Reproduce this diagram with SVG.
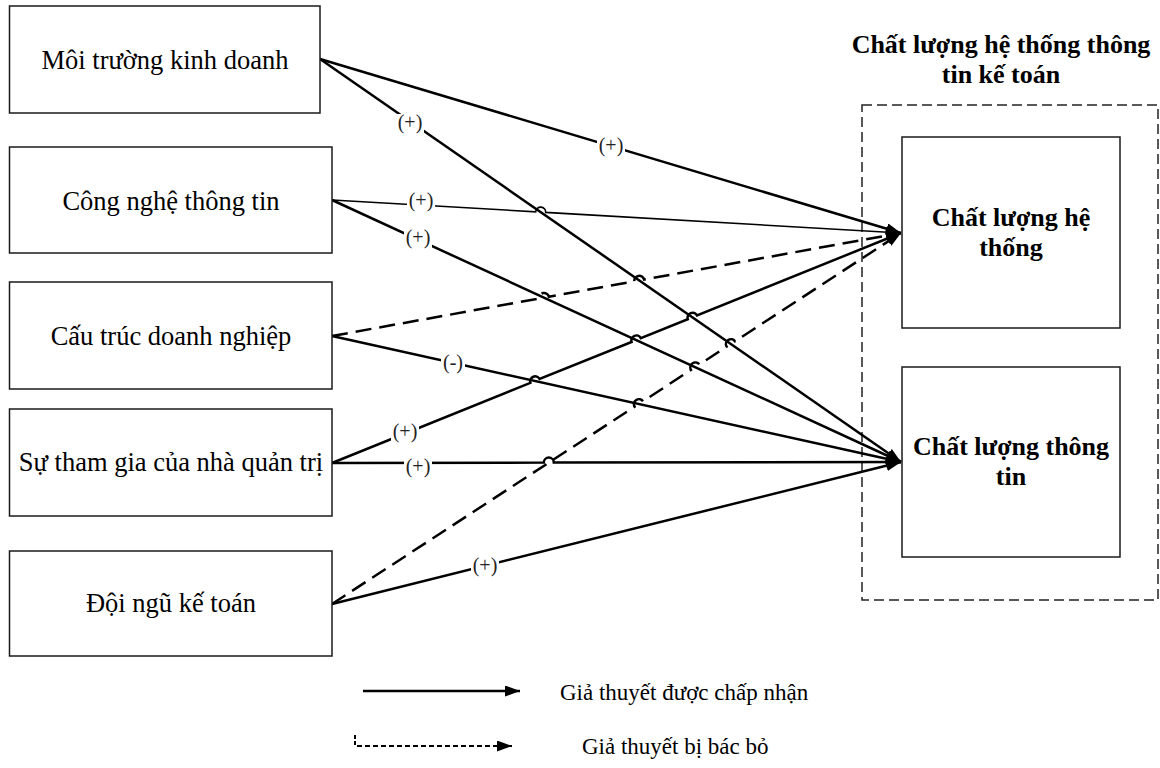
<svg xmlns="http://www.w3.org/2000/svg" width="1160" height="768" viewBox="0 0 1160 768">
<style>
  .box{fill:#fff;stroke:#1a1a1a;stroke-width:1.5}
  .outer{fill:none;stroke:#222;stroke-width:1.5;stroke-dasharray:10 5}
  .txt{font-family:"Liberation Serif","DejaVu Serif",serif;font-size:26.5px;fill:#000;text-anchor:middle}
  .btxt{font-family:"Liberation Serif","DejaVu Serif",serif;font-size:26px;font-weight:bold;fill:#000;text-anchor:middle}
  .lg{font-family:"Liberation Serif","DejaVu Serif",serif;font-size:23px;fill:#000}
  .lbl{font-family:"Liberation Serif","DejaVu Serif",serif;font-size:20px;fill:#222;text-anchor:middle}
  .bg{fill:#fff}
  .c{fill:none;stroke:#000;stroke-width:2.5}
  .thin{fill:none;stroke:#000;stroke-width:1.6}
  .d{fill:none;stroke:#000;stroke-width:2.5;stroke-dasharray:16 8}
</style>
<defs>
  <marker id="ah" viewBox="0 0 15 11" refX="15" refY="5.5" markerWidth="15" markerHeight="11" markerUnits="userSpaceOnUse" orient="auto">
    <path d="M0 0 L15 5.5 L0 11 z" fill="#000"/>
  </marker>
</defs>

<g id="container">
  <rect class="outer" x="862" y="105" width="296" height="495"/>
  <text class="btxt" x="1001" y="53">Chất lượng hệ thống thông</text>
  <text class="btxt" x="1001" y="83">tin kế toán</text>
</g>

<g id="connectors">
  <path class="c" d="M320 59 L901 233" marker-end="url(#ah)"/>
  <path class="c" d="M320 59 L901 462" marker-end="url(#ah)"/>
  <path class="thin" d="M332 200 L535.7 211.8 A5 5 0 0 1 545.7 212.4 L901 233" marker-end="url(#ah)"/>
  <path class="c" d="M332 200 L901 462" marker-end="url(#ah)"/>
  <path class="d" d="M332 336 L539.1 298.5 A5 5 0 0 1 548.9 296.7 L634.3 281.3 A5 5 0 0 1 644.1 279.5 L901 233" marker-end="url(#ah)"/>
  <path class="c" d="M332 336 L901 462" marker-end="url(#ah)"/>
  <path class="c" d="M332 463 L530.4 382.8 A5 5 0 0 1 539.6 379.0 L631.6 341.9 A5 5 0 0 1 640.8 338.1 L687.8 319.2 A5 5 0 0 1 697.0 315.4 L901 233" marker-end="url(#ah)"/>
  <path class="c" d="M332 463 L543.8 462.6 A5 5 0 0 1 553.8 462.6 L901 462" marker-end="url(#ah)"/>
  <path class="d" d="M332 604 L634.6 406.7 A5 5 0 0 1 643.0 401.3 L691.0 369.9 A5 5 0 0 1 699.4 364.5 L726.6 346.7 A5 5 0 0 1 735.0 341.3 L901 233" marker-end="url(#ah)"/>
  <path class="c" d="M332 604 L901 462" marker-end="url(#ah)"/>

  <rect class="bg" x="597" y="137" width="28" height="20"/>
  <text class="lbl" x="611" y="152">(+)</text>
  <rect class="bg" x="396" y="114" width="28" height="20"/>
  <text class="lbl" x="410" y="129">(+)</text>
  <rect class="bg" x="407" y="192" width="28" height="20"/>
  <text class="lbl" x="421" y="207">(+)</text>
  <rect class="bg" x="404" y="229" width="28" height="20"/>
  <text class="lbl" x="418" y="244">(+)</text>
  <rect class="bg" x="441" y="354" width="24" height="20"/>
  <text class="lbl" x="453" y="369">(-)</text>
  <rect class="bg" x="391" y="423" width="28" height="20"/>
  <text class="lbl" x="405" y="438">(+)</text>
  <rect class="bg" x="404" y="458" width="28" height="20"/>
  <text class="lbl" x="418" y="473">(+)</text>
  <rect class="bg" x="471" y="557" width="28" height="20"/>
  <text class="lbl" x="485" y="572">(+)</text>
</g>

<g id="node-moi-truong">
  <rect class="box" x="9.5" y="6" width="310.5" height="107"/>
  <text class="txt" x="165" y="69">Môi trường kinh doanh</text>
</g>
<g id="node-cong-nghe">
  <rect class="box" x="9.5" y="147" width="322.5" height="106"/>
  <text class="txt" x="171" y="210">Công nghệ thông tin</text>
</g>
<g id="node-cau-truc">
  <rect class="box" x="9.5" y="282" width="322.5" height="107"/>
  <text class="txt" x="171" y="345">Cấu trúc doanh nghiệp</text>
</g>
<g id="node-su-tham-gia">
  <rect class="box" x="9.5" y="409" width="322.5" height="107"/>
  <text class="txt" x="171" y="471">Sự tham gia của nhà quản trị</text>
</g>
<g id="node-doi-ngu">
  <rect class="box" x="9.5" y="551" width="322.5" height="105"/>
  <text class="txt" x="171" y="612">Đội ngũ kế toán</text>
</g>

<g id="node-cl-he-thong">
  <rect class="box" x="902" y="137" width="218" height="191"/>
  <text class="btxt" x="1011" y="226">Chất lượng hệ</text>
  <text class="btxt" x="1011" y="256">thống</text>
</g>
<g id="node-cl-thong-tin">
  <rect class="box" x="902" y="367" width="218" height="190"/>
  <text class="btxt" x="1011" y="455">Chất lượng thông</text>
  <text class="btxt" x="1011" y="485">tin</text>
</g>

<g id="legend">
  <line x1="363" y1="691" x2="520" y2="691" stroke="#000" stroke-width="2.5" marker-end="url(#ah)"/>
  <text class="lg" x="560" y="700">Giả thuyết được chấp nhận</text>
  <line x1="355" y1="735" x2="355" y2="746" stroke="#000" stroke-width="2" stroke-dasharray="4 2"/>
  <line x1="357" y1="746" x2="512" y2="746" stroke="#000" stroke-width="2" stroke-dasharray="5 3" marker-end="url(#ah)"/>
  <text class="lg" x="582" y="754">Giả thuyết bị bác bỏ</text>
</g>
</svg>
